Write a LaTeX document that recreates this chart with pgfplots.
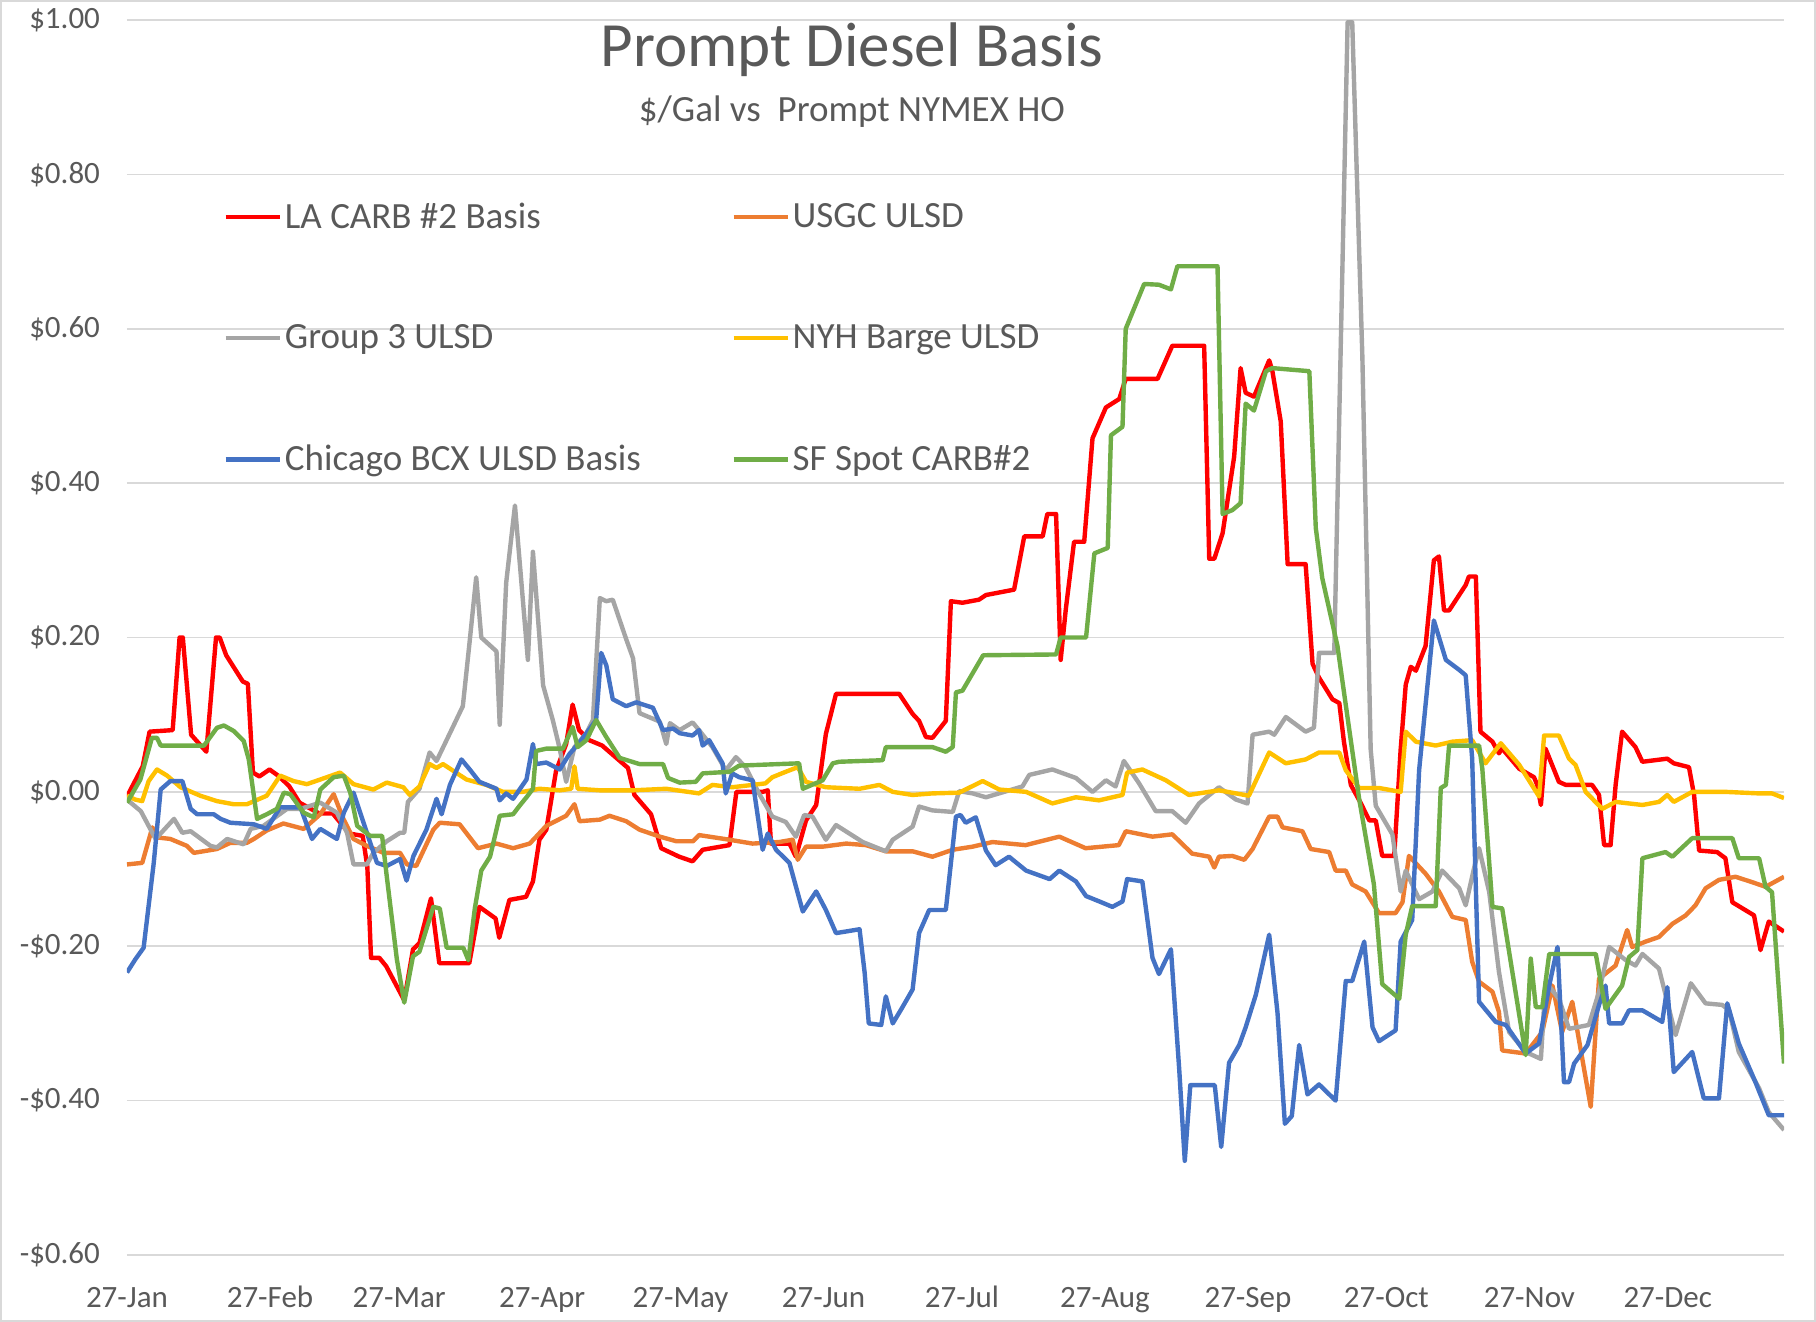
\documentclass[border=0pt]{standalone}
\usepackage{fontspec}
\setmainfont{Carlito}
\usepackage{pgfplots}
\pgfplotsset{compat=1.18}
\definecolor{cRed}{HTML}{FF0000}
\definecolor{cOrange}{HTML}{ED7D31}
\definecolor{cGray}{HTML}{A5A5A5}
\definecolor{cYellow}{HTML}{FFC000}
\definecolor{cBlue}{HTML}{4472C4}
\definecolor{cGreen}{HTML}{70AD47}
\definecolor{txt}{HTML}{595959}
\definecolor{gridc}{HTML}{D9D9D9}
\begin{document}
\begin{tikzpicture}
\useasboundingbox (-63.5pt,-33.5pt) rectangle (844.5pt,627.5pt);
\draw[draw=gridc, line width=1.2pt] (-62.9pt,-32.9pt) rectangle (843.9pt,626.9pt);
\begin{axis}[
 scale only axis, width=828.5pt, height=617.5pt,
 xmin=0, xmax=359.2, ymin=-0.6, ymax=1.0,
 axis line style={draw=none},
 tick style={draw=none},
 ymajorgrids, grid style={gridc, line width=0.8pt},
 ytick={-0.6,-0.4,-0.2,0,0.2,0.4,0.6,0.8,1.0},
 yticklabels={-\$0.60,-\$0.40,-\$0.20,\$0.00,\$0.20,\$0.40,\$0.60,\$0.80,\$1.00},
 xtick={0,31,59,90,120,151,181,212,243,273,304,334},
 xticklabels={27-Jan,27-Feb,27-Mar,27-Apr,27-May,27-Jun,27-Jul,27-Aug,27-Sep,27-Oct,27-Nov,27-Dec},
 ticklabel style={font=\fontsize{15.5}{18}\selectfont, text=txt},
 yticklabel style={xshift=-10pt},
 xticklabel style={yshift=-11pt, text height=11.5pt, text depth=3.5pt},
 legend columns=2, legend cell align=left,
 legend style={at={(0.0544,0.7423)}, anchor=west, draw=none, fill=none,
   font=\fontsize{18.5}{22}\selectfont, text=txt, row sep=43.8pt,
   nodes={inner sep=1.5pt},
   /tikz/every even column/.append style={column sep=8pt}},
 legend image code/.code={\draw[#1, line width=2.2pt] (0pt,0pt) -- (27pt,0pt);},
 every axis plot/.append style={line width=2.2pt, line join=round},
]
\node[text=txt, font=\fontsize{31.5}{36}\selectfont] at (rel axis cs:0.4375,0.9757) {Prompt Diesel Basis};
\node[text=txt, font=\fontsize{18.5}{22}\selectfont] at (rel axis cs:0.4375,0.926) {\$/Gal vs\ \ Prompt NYMEX HO};

\addplot[cRed] coordinates {(0,-0.006) (3.4,0.033) (4.9,0.078) (9.9,0.080) (11.4,0.2) (12.1,0.2) (13.9,0.074) (17.2,0.052) (19.3,0.2) (20.1,0.2) (21.5,0.177) (25.1,0.143) (26.2,0.14) (27.3,0.025) (28.7,0.02) (30.9,0.029) (33,0.02) (35.2,0.007) (37.4,-0.014) (41.7,-0.028) (44.6,-0.028) (48.2,-0.054) (51.1,-0.057) (52.1,-0.097) (52.9,-0.215) (54.7,-0.215) (56.2,-0.226) (60.1,-0.27) (62,-0.204) (63.4,-0.196) (65.9,-0.138) (67.7,-0.222) (74.2,-0.222) (76.4,-0.149) (79.9,-0.164) (80.7,-0.189) (82.9,-0.14) (86.5,-0.136) (88,-0.116) (89.4,-0.062) (90.9,-0.049) (93,0.027) (95.2,0.062) (96.6,0.113) (98,0.08) (100.2,0.067) (103,0.06) (108.6,0.031) (110,-0.004) (113.6,-0.029) (115.8,-0.073) (119.7,-0.084) (122.6,-0.09) (124.8,-0.075) (130.6,-0.069) (132.1,0.0) (137.8,0.0) (138.9,0.002) (139.6,-0.067) (143.6,-0.067) (145,-0.084) (147.2,-0.037) (149.4,-0.017) (151.5,0.075) (153.7,0.127) (167.4,0.127) (170.3,0.101) (171.7,0.092) (173.2,0.071) (174.6,0.07) (177.5,0.092) (178.6,0.247) (181.1,0.245) (184.7,0.249) (186.2,0.255) (192.3,0.262) (194.5,0.331) (198.5,0.331) (199.5,0.36) (201.4,0.36) (202.4,0.171) (203.5,0.236) (205.3,0.324) (207.5,0.324) (209.3,0.458) (212.2,0.498) (215.1,0.509) (216.5,0.535) (223.4,0.535) (226.6,0.578) (233.5,0.578) (234.6,0.302) (235.7,0.302) (237.5,0.335) (240,0.434) (241.4,0.549) (242.5,0.517) (244.3,0.512) (247.6,0.559) (248.3,0.545) (250.1,0.48) (251.6,0.295) (255.5,0.295) (257,0.166) (258.4,0.148) (261.3,0.12) (262.8,0.115) (263.8,0.065) (265.3,0.009) (267.4,-0.014) (269.3,-0.037) (270.7,-0.037) (272.1,-0.083) (274.7,-0.083) (276.1,0.055) (277.2,0.139) (278.3,0.162) (279.4,0.157) (281.5,0.189) (283.3,0.3) (284.4,0.305) (285.5,0.235) (286.6,0.235) (290.2,0.268) (290.9,0.279) (292.4,0.279) (293.4,0.078) (296,0.065) (297.4,0.05) (298.1,0.056) (301.8,0.03) (305,0.019) (305.7,0.009) (306.5,-0.017) (307.5,0.056) (310.4,0.013) (311.9,0.009) (317.6,0.009) (319.1,-0.004) (320.2,-0.069) (321.6,-0.069) (322.7,0.009) (324.1,0.078) (327,0.058) (328.5,0.039) (333.9,0.043) (335.3,0.037) (338.6,0.032) (339.7,-0.004) (340.8,-0.076) (344.7,-0.078) (346.5,-0.086) (348,-0.143) (352.7,-0.16) (354.1,-0.205) (355.9,-0.168) (359.2,-0.181)};
\addlegendentry{\makebox[213.7pt][l]{LA CARB \#2 Basis}}

\addplot[cOrange] coordinates {(0,-0.094) (3.3,-0.092) (5.5,-0.046) (6.5,-0.059) (9.4,-0.061) (13,-0.07) (14.5,-0.079) (19.5,-0.074) (22.4,-0.066) (26,-0.066) (27.5,-0.061) (30.3,-0.05) (33.9,-0.041) (38.3,-0.048) (41.9,-0.029) (44.8,-0.003) (46.9,-0.035) (49.1,-0.061) (52,-0.07) (55.6,-0.079) (59.2,-0.079) (60.7,-0.094) (62.7,-0.096) (66.4,-0.049) (67.8,-0.04) (72.1,-0.042) (76.1,-0.073) (80.1,-0.067) (83.7,-0.073) (87.3,-0.067) (90.9,-0.044) (95.2,-0.031) (97,-0.016) (98.1,-0.038) (102.5,-0.036) (104.6,-0.031) (108.2,-0.038) (111.1,-0.049) (115.5,-0.058) (119.1,-0.064) (122.7,-0.064) (124,-0.056) (130.6,-0.062) (135.6,-0.067) (141.4,-0.065) (144.3,-0.062) (145.4,-0.088) (147.2,-0.071) (150.8,-0.071) (155.9,-0.067) (160.2,-0.069) (164.5,-0.077) (170.3,-0.077) (174.6,-0.084) (179,-0.075) (183.3,-0.071) (187.6,-0.065) (194.8,-0.069) (202.1,-0.058) (207.8,-0.073) (215,-0.069) (216.5,-0.051) (222.3,-0.058) (226.6,-0.055) (230.9,-0.08) (234.6,-0.084) (235.7,-0.098) (236.7,-0.084) (239.6,-0.083) (242.2,-0.088) (244,-0.074) (247.6,-0.032) (249.4,-0.032) (250.5,-0.046) (254.8,-0.051) (256.6,-0.074) (260.6,-0.078) (262,-0.102) (264.2,-0.102) (265.6,-0.12) (268.5,-0.129) (271.4,-0.157) (275,-0.157) (276.5,-0.143) (277.9,-0.083) (281.5,-0.106) (284.4,-0.129) (287.3,-0.162) (290.2,-0.166) (291.6,-0.22) (293.1,-0.246) (296,-0.259) (297.4,-0.285) (298.1,-0.335) (303.2,-0.339) (306.8,-0.311) (309,-0.251) (311.1,-0.311) (313.3,-0.272) (317.3,-0.408) (319.1,-0.242) (322.7,-0.225) (325.2,-0.179) (326.3,-0.201) (329.2,-0.194) (332.1,-0.188) (335,-0.171) (337.9,-0.16) (340,-0.147) (342.2,-0.125) (345.1,-0.114) (348.7,-0.11) (352.3,-0.117) (355.2,-0.123) (359.2,-0.11)};
\addlegendentry{USGC ULSD}

\addplot[cGray] coordinates {(0,-0.01) (3,-0.025) (6.2,-0.061) (10.2,-0.035) (12,-0.053) (13.8,-0.051) (18.1,-0.07) (19.5,-0.072) (21.7,-0.061) (25.3,-0.068) (26.8,-0.048) (29.6,-0.044) (34.7,-0.022) (37.6,-0.022) (41.9,-0.014) (45.5,-0.027) (47.7,-0.053) (49.1,-0.094) (52,-0.094) (53.4,-0.079) (56.3,-0.064) (59.2,-0.053) (60.1,-0.053) (60.9,-0.013) (63.4,0.004) (65.6,0.051) (67.1,0.04) (70,0.076) (72.8,0.111) (74.3,0.196) (75.7,0.278) (76.8,0.2) (80.1,0.182) (80.8,0.087) (82.2,0.271) (84.1,0.371) (86.9,0.171) (88,0.311) (90.2,0.138) (92.3,0.093) (93.8,0.056) (95.2,0.013) (97,0.058) (99.6,0.076) (101,0.093) (102.5,0.251) (103.9,0.247) (105.3,0.249) (108.2,0.198) (109.7,0.173) (111.1,0.102) (115.5,0.091) (116.9,0.062) (117.7,0.089) (119.8,0.08) (122.6,0.09) (124,0.08) (126.9,0.058) (129.8,0.028) (132,0.045) (134.1,0.032) (137,-0.002) (139.9,-0.032) (142.8,-0.039) (145,-0.058) (146.8,-0.03) (148.6,-0.032) (151.5,-0.062) (153.7,-0.043) (159.5,-0.065) (164.5,-0.077) (166,-0.062) (170.3,-0.045) (171.7,-0.019) (174.6,-0.024) (179,-0.026) (180.4,0.001) (183.3,-0.002) (186.2,-0.007) (194.1,0.007) (195.6,0.022) (200.6,0.029) (205.7,0.018) (209.3,0) (212.2,0.015) (214.3,0.007) (216.1,0.04) (219.4,0.011) (223,-0.025) (226.6,-0.025) (229.5,-0.04) (232.4,-0.015) (236.7,0.006) (240.4,-0.01) (242.9,-0.015) (244,0.074) (247.6,0.078) (248.7,0.074) (251.2,0.097) (255.5,0.078) (257.3,0.083) (258.4,0.18) (261.7,0.18) (264.6,0.997) (265.6,0.997) (267.8,0.563) (269.6,0.055) (270.7,-0.018) (274.3,-0.055) (276.1,-0.129) (277.2,-0.102) (280.1,-0.139) (283,-0.129) (285.1,-0.102) (288.8,-0.125) (290.2,-0.147) (292,-0.099) (293.1,-0.073) (295.3,-0.13) (297.4,-0.233) (299.6,-0.311) (303.2,-0.337) (306.5,-0.346) (307.5,-0.246) (310.4,-0.268) (312.6,-0.307) (316.9,-0.302) (319.1,-0.259) (321.3,-0.201) (324.9,-0.218) (327,-0.225) (328.5,-0.21) (332.1,-0.229) (335.7,-0.315) (339,-0.248) (342.2,-0.274) (345.8,-0.276) (347.3,-0.283) (349.4,-0.337) (353.8,-0.384) (355.9,-0.415) (359.2,-0.438)};
\addlegendentry{\makebox[213.7pt][l]{Group 3 ULSD}}

\addplot[cYellow] coordinates {(0,-0.005) (1.8,-0.01) (3.3,-0.012) (4.7,0.014) (6.5,0.029) (8.7,0.021) (11.6,0.006) (15.9,-0.005) (19.5,-0.012) (23.1,-0.016) (26,-0.016) (30.3,-0.005) (33.2,0.021) (36.1,0.014) (39,0.01) (41.9,0.016) (46.2,0.025) (49.1,0.01) (53.4,0.003) (56.3,0.012) (59.9,0.006) (61.3,-0.004) (63.4,0.007) (65.6,0.036) (67.1,0.031) (68.5,0.036) (73.6,0.016) (77.9,0.009) (81.5,0) (85.8,0) (89.4,0.004) (93.8,0.002) (96.3,0.004) (97,0.033) (97.7,0.004) (102.5,0.002) (109.7,0.002) (116.9,0.004) (124,-0.002) (126.9,0.009) (131.2,0.006) (135.6,0.009) (138.4,0.011) (139.9,0.019) (142.8,0.026) (145.4,0.032) (147.2,0.013) (151.5,0.006) (158.8,0.004) (163.1,0.009) (166,0) (170.3,-0.004) (174.6,-0.002) (180.4,-0.001) (185.5,0.014) (189.1,0.003) (194.9,0) (200.6,-0.015) (205.7,-0.007) (210.7,-0.011) (215.8,-0.004) (216.8,0.025) (220.1,0.029) (225.2,0.015) (230.2,-0.004) (236.7,0.002) (243.2,-0.005) (247.6,0.051) (251.2,0.037) (255.5,0.042) (258.4,0.051) (262.8,0.051) (264.2,0.028) (267.1,0.005) (271.4,0.005) (276.1,0) (277.2,0.078) (279.4,0.065) (283.7,0.06) (287.3,0.065) (291.6,0.067) (294.5,0.037) (297.8,0.063) (301.8,0.035) (306.1,-0.006) (307.2,0.073) (310.4,0.073) (312.6,0.043) (314,0.035) (316.2,0) (319.8,-0.022) (322.7,-0.013) (325.6,-0.015) (328.5,-0.017) (332.1,-0.013) (333.9,-0.004) (335.3,-0.013) (339.3,0) (346.5,0) (353.8,-0.002) (356.6,-0.002) (359.2,-0.008)};
\addlegendentry{NYH Barge ULSD}

\addplot[cBlue] coordinates {(0,-0.234) (1.8,-0.217) (3.6,-0.202) (5.8,-0.092) (7.3,0.003) (9.4,0.014) (12,0.014) (13.8,-0.022) (15.2,-0.029) (18.8,-0.029) (20.3,-0.035) (22.4,-0.04) (27.5,-0.042) (30.3,-0.048) (33.2,-0.02) (37.6,-0.02) (40.1,-0.061) (41.9,-0.048) (45.5,-0.061) (47,-0.027) (49.1,-0.001) (52,-0.053) (54.2,-0.092) (56.3,-0.096) (59.2,-0.087) (60.6,-0.115) (62.1,-0.083) (64.9,-0.049) (67.1,-0.009) (68.2,-0.029) (70,0.009) (72.5,0.042) (74.3,0.029) (76.4,0.013) (80.1,0.004) (80.8,-0.011) (82.2,-0.002) (83.7,-0.009) (86.6,0.016) (88,0.062) (88.7,0.036) (90.9,0.038) (93.8,0.029) (95.9,0.049) (98.1,0.064) (101.7,0.093) (102.8,0.18) (103.9,0.164) (105.3,0.12) (108.2,0.111) (110.4,0.116) (114,0.109) (116.2,0.08) (118.4,0.082) (119.8,0.076) (122.6,0.073) (124,0.08) (124.8,0.06) (126.2,0.067) (129.1,0.037) (129.8,-0.002) (131.2,0.024) (132.7,0.019) (135.6,0.015) (137.8,-0.075) (138.9,-0.054) (140.7,-0.075) (143.6,-0.092) (146.5,-0.155) (149.4,-0.129) (151.5,-0.153) (153.7,-0.183) (158.8,-0.178) (159.9,-0.234) (160.8,-0.3) (163.5,-0.302) (164.5,-0.265) (166,-0.3) (168,-0.28) (170.3,-0.256) (171.7,-0.183) (173.9,-0.153) (177.5,-0.153) (179.7,-0.032) (180.7,-0.03) (181.8,-0.04) (184,-0.033) (186.2,-0.076) (188.3,-0.095) (191.2,-0.084) (194.9,-0.102) (200,-0.113) (202.1,-0.102) (205.7,-0.116) (207.9,-0.135) (210.8,-0.142) (213.6,-0.149) (215.8,-0.142) (216.8,-0.113) (220.1,-0.116) (222.3,-0.215) (223.7,-0.236) (226.3,-0.204) (228.1,-0.36) (229.3,-0.478) (230.5,-0.38) (235.8,-0.38) (237.2,-0.46) (238.9,-0.351) (241.1,-0.328) (242.5,-0.305) (244.7,-0.263) (247.6,-0.185) (249.4,-0.286) (251,-0.43) (252.5,-0.42) (254.1,-0.328) (255.9,-0.392) (258.4,-0.379) (262,-0.4) (264.2,-0.245) (265.6,-0.245) (268.2,-0.194) (270,-0.305) (271.4,-0.323) (275,-0.309) (276.1,-0.194) (278.6,-0.166) (280.1,0.028) (283.3,0.222) (285.9,0.171) (288.8,0.158) (290.2,0.151) (291.6,0.043) (293.1,-0.272) (296.7,-0.298) (298.9,-0.302) (303.2,-0.339) (306.1,-0.326) (308.3,-0.251) (310.1,-0.201) (311.5,-0.376) (312.6,-0.376) (313.7,-0.352) (316.6,-0.328) (319.1,-0.276) (320.5,-0.251) (321.3,-0.3) (324.1,-0.3) (325.6,-0.283) (328.5,-0.283) (332.8,-0.298) (333.9,-0.253) (335.3,-0.363) (339.3,-0.337) (341.8,-0.397) (345.1,-0.397) (346.9,-0.274) (349.4,-0.326) (353,-0.376) (355.9,-0.419) (359.2,-0.419)};
\addlegendentry{\makebox[213.7pt][l]{Chicago BCX ULSD Basis}}

\addplot[cGreen] coordinates {(0,-0.014) (2.9,0.016) (5.4,0.07) (6.5,0.07) (7.3,0.06) (16.7,0.06) (19.5,0.083) (21,0.086) (23.1,0.079) (25.3,0.066) (26.4,0.042) (28.2,-0.035) (30.3,-0.029) (32.5,-0.022) (34,-0.001) (35.4,-0.003) (38.3,-0.027) (40.5,-0.033) (41.9,0.003) (44.8,0.019) (47,0.021) (48.4,-0.001) (49.9,-0.044) (52.7,-0.057) (55.3,-0.057) (56.3,-0.109) (58.5,-0.217) (60.1,-0.273) (62,-0.213) (63.4,-0.207) (66.4,-0.149) (67.8,-0.151) (69.3,-0.202) (72.9,-0.202) (74,-0.218) (75.4,-0.151) (76.8,-0.102) (78.7,-0.084) (80.8,-0.031) (83.7,-0.029) (85.1,-0.018) (86.6,-0.007) (88,0.004) (88.7,0.053) (90.9,0.056) (94.5,0.056) (96.6,0.084) (97.7,0.058) (99.6,0.067) (101.7,0.093) (103.9,0.071) (106.8,0.044) (111.1,0.036) (116.2,0.036) (117.3,0.018) (119.8,0.012) (123.3,0.013) (124.8,0.024) (130.6,0.026) (132.7,0.034) (145.7,0.037) (146.5,0.004) (150.8,0.015) (153,0.037) (154.4,0.039) (163.8,0.041) (164.5,0.058) (174.6,0.058) (177.5,0.052) (179,0.058) (179.7,0.129) (181.1,0.131) (185.6,0.177) (201.4,0.178) (202.4,0.2) (207.9,0.2) (209.7,0.309) (212.6,0.316) (213.3,0.462) (215.8,0.473) (216.5,0.6) (220.5,0.658) (223.7,0.657) (226.3,0.651) (227.7,0.681) (236.4,0.681) (237.5,0.36) (239.6,0.365) (241.4,0.374) (242.5,0.503) (244.3,0.494) (246.9,0.545) (248.3,0.549) (256.3,0.545) (257.7,0.342) (259.1,0.277) (262.4,0.189) (264.9,0.083) (267.1,-0.009) (270.3,-0.12) (272.1,-0.249) (275.8,-0.268) (277.2,-0.185) (278.6,-0.148) (283.7,-0.148) (284.8,0.005) (285.9,0.009) (286.6,0.06) (293.1,0.06) (293.8,0.03) (296,-0.149) (298.1,-0.151) (303.2,-0.341) (304.3,-0.216) (305.4,-0.279) (306.8,-0.279) (308.3,-0.21) (318.4,-0.21) (320.5,-0.281) (324.1,-0.251) (325.6,-0.214) (327.4,-0.205) (328.5,-0.086) (333.5,-0.078) (335,-0.084) (339.3,-0.06) (348,-0.06) (349.4,-0.086) (353.8,-0.086) (355.2,-0.123) (356.6,-0.13) (359.2,-0.352)};
\addlegendentry{SF Spot CARB\#2}
\end{axis}
\end{tikzpicture}
\end{document}
